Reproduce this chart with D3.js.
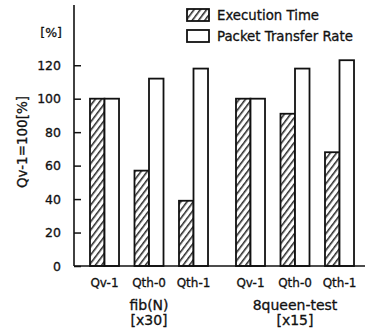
<!DOCTYPE html>
<html>
<head>
<meta charset="utf-8">
<script src="https://cdn.jsdelivr.net/npm/d3@7"></script>
<style>
  body { margin: 0; background: #fff; }
  text { font-family: "DejaVu Sans", sans-serif; font-size: 12px; fill: #111; stroke: #111; stroke-width: 0.3; }
  .ylab { font-size: 12.5px; }
  .legend text { font-size: 13.3px; }
  .glab { font-size: 14px; }
  .ytitle { font-size: 13.5px; }
</style>
</head>
<body>
<div id="chart"></div>
<script>
// data
var groups = ['fib(N)', '8queen-test'];
var groupNotes = ['[x30]', '[x15]'];
var variants = ['Qv-1', 'Qth-0', 'Qth-1'];
var seriesNames = ['Execution Time', 'Packet Transfer Rate'];
var execTime = [[100, 57, 39], [100, 91, 68]];
var packetRate = [[100, 112, 118], [100, 118, 123]];
var yTicks = [0, 20, 40, 60, 80, 100, 120];

var width = 368, height = 330;

var svg = d3.select('#chart')
    .append('svg')
    .attr('width', width)
    .attr('height', height);

// hatch pattern
var defs = svg.append('defs');
var pat = defs.append('pattern')
    .attr('id', 'hatch')
    .attr('patternUnits', 'userSpaceOnUse')
    .attr('width', 5)
    .attr('height', 5)
    .attr('patternTransform', 'rotate(37)');
pat.append('rect').attr('width', 5).attr('height', 5).attr('fill', '#fff');
pat.append('line')
    .attr('x1', 0.8).attr('y1', 0).attr('x2', 0.8).attr('y2', 5)
    .attr('stroke', '#111').attr('stroke-width', 1.4);

var axisX = 74, baseY = 266, topY = 5;

var y = d3.scaleLinear()
    .domain([0, 156])
    .range([baseY, topY]);

var x0 = d3.scaleBand()
    .domain(groups)
    .range([82.25, 361.75])
    .paddingInner(0.0856)
    .paddingOuter(0);

var x1 = d3.scaleBand()
    .domain(variants)
    .range([0, x0.bandwidth()])
    .paddingInner(0.348)
    .paddingOuter(0.174);

var x2 = d3.scaleBand()
    .domain(seriesNames)
    .range([0, x1.bandwidth()]);

// y axis ticks (pointing inward)
var yAxis = d3.axisRight(y)
    .tickValues(yTicks)
    .tickSize(7)
    .tickFormat('');

var ya = svg.append('g')
    .attr('transform', 'translate(' + axisX + ',0)')
    .call(yAxis);
ya.select('.domain').remove();
ya.selectAll('line').attr('stroke', '#111').attr('stroke-width', 1.5);

svg.selectAll('.ylab')
    .data(yTicks)
    .enter()
    .append('text')
    .attr('class', 'ylab')
    .attr('x', 61)
    .attr('y', function (d) { return y(d); })
    .attr('dy', '0.36em')
    .attr('text-anchor', 'end')
    .text(function (d) { return d; });

svg.append('text')
    .attr('class', 'ylab')
    .attr('x', 62)
    .attr('y', 37)
    .attr('text-anchor', 'end')
    .text('[%]');

svg.append('text')
    .attr('class', 'ytitle')
    .attr('transform', 'translate(27,142) rotate(-90)')
    .attr('text-anchor', 'middle')
    .text('Qv-1=100[%]');

// bars
var rows = [];
groups.forEach(function (g, gi) {
    variants.forEach(function (v, vi) {
        rows.push({g: g, v: v, s: seriesNames[0], val: execTime[gi][vi]});
        rows.push({g: g, v: v, s: seriesNames[1], val: packetRate[gi][vi]});
    });
});

svg.append('g')
    .selectAll('rect')
    .data(rows)
    .enter()
    .append('rect')
    .attr('x', function (d) { return x0(d.g) + x1(d.v) + x2(d.s); })
    .attr('y', function (d) { return y(d.val); })
    .attr('width', x2.bandwidth())
    .attr('height', function (d) { return baseY - y(d.val); })
    .attr('fill', function (d) { return d.s == seriesNames[0] ? 'url(#hatch)' : '#fff'; })
    .attr('stroke', '#111')
    .attr('stroke-width', 1.8);

// axis lines
svg.append('line')
    .attr('x1', axisX).attr('x2', axisX)
    .attr('y1', y.range()[1]).attr('y2', baseY)
    .attr('stroke', '#111').attr('stroke-width', 1.6);
svg.append('line')
    .attr('x1', axisX).attr('x2', 365)
    .attr('y1', baseY).attr('y2', baseY)
    .attr('stroke', '#111').attr('stroke-width', 1.6);

// category labels
groups.forEach(function (g, gi) {
    variants.forEach(function (v) {
        svg.append('text')
            .attr('x', x0(g) + x1(v) + x1.bandwidth() / 2)
            .attr('y', 287)
            .attr('text-anchor', 'middle')
            .text(v);
    });
    var cx = x0(g) + x0.bandwidth() / 2;
    svg.append('text')
        .attr('class', 'glab')
        .attr('x', cx).attr('y', 310)
        .attr('text-anchor', 'middle')
        .text(g);
    svg.append('text')
        .attr('class', 'glab')
        .attr('x', cx).attr('y', 325)
        .attr('text-anchor', 'middle')
        .text(groupNotes[gi]);
});

// legend
var legend = svg.append('g').attr('class', 'legend');
seriesNames.forEach(function (s, i) {
    legend.append('rect')
        .attr('x', 187)
        .attr('y', 9 + i * 21)
        .attr('width', 22)
        .attr('height', 12)
        .attr('fill', i == 0 ? 'url(#hatch)' : '#fff')
        .attr('stroke', '#111')
        .attr('stroke-width', 1.8);
    legend.append('text')
        .attr('x', 217)
        .attr('y', 20 + i * 21)
        .text(s);
});
</script>
</body>
</html>
